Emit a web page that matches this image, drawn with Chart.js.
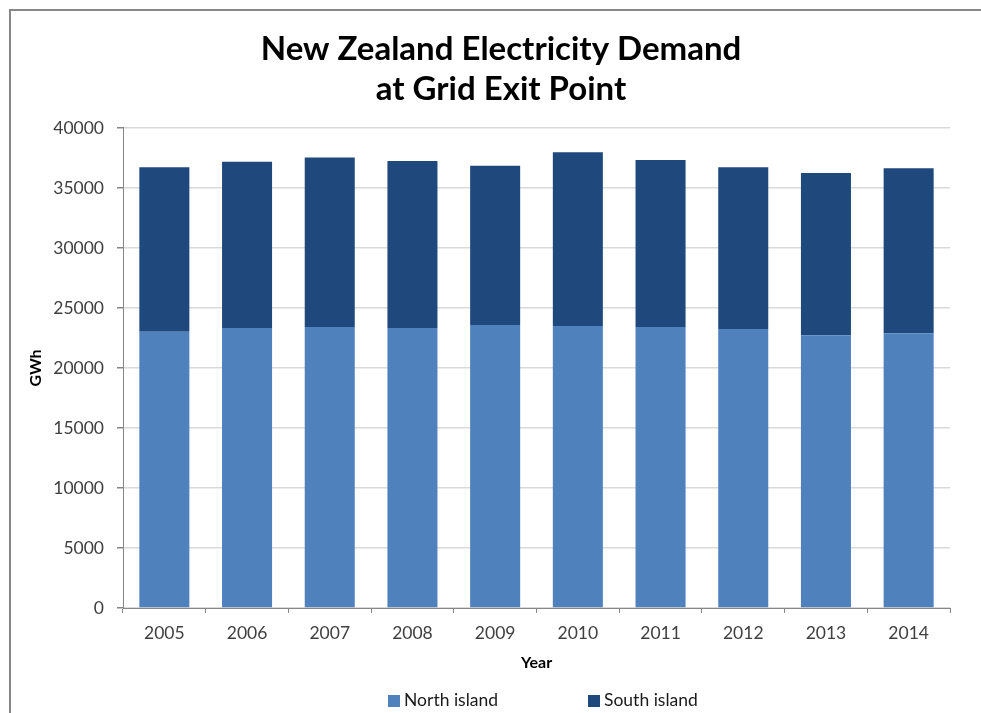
<!DOCTYPE html>
<html lang="en">
<head>
    <meta charset="UTF-8">
    <title>New Zealand Electricity Demand</title>
    <style>
        body {
            margin: 0;
            background: #fff;
            font-family: 'Lato', sans-serif;
        }
        .frame {
            position: absolute;
            left: 9px;
            top: 9px;
            width: 1200px;
            height: 1200px;
            border-left: 2px solid #868686;
            border-top: 2px solid #868686;
        }
        .wrap {
            position: absolute;
            left: 0;
            top: 0;
            width: 981px;
            height: 713px;
        }
        .legend-item {
            position: absolute;
            top: 689px;
            font-size: 17.5px;
            color: #1a1a1a;
            line-height: 22px;
            white-space: nowrap;
        }
        .legend-item span {
            display: inline-block;
            width: 12px;
            height: 12px;
            margin-right: 4px;
            vertical-align: -1px;
        }
    </style>
    <script src="https://cdn.jsdelivr.net/npm/chart.js"></script>
</head>
<body>
<div class="frame"></div>
<div class="wrap">
    <canvas id="chart" width="981" height="713"></canvas>
</div>
<div class="legend-item" style="left:388px"><span style="background:#4F81BD"></span>North island</div>
<div class="legend-item" style="left:588px"><span style="background:#1F497D"></span>South island</div>

<script>
    // values (GWh)
    const years = ['2005', '2006', '2007', '2008', '2009', '2010', '2011', '2012', '2013', '2014'];
    const northIsland = [23030, 23330, 23420, 23330, 23580, 23500, 23420, 23250, 22720, 22890];
    const southIsland = [13690, 13860, 14130, 13920, 13280, 14470, 13910, 13470, 13530, 13750];
    const titleLines = ['New Zealand Electricity Demand', 'at Grid Exit Point'];

    const axisGray = '#868686';
    const gridGray = '#D9D9D9';
    const tickText = '#404040';

    new Chart(document.getElementById('chart'), {
        type: 'bar',
        data: {
            labels: years,
            datasets: [
                {
                    label: 'North island',
                    data: northIsland,
                    backgroundColor: '#4F81BD',
                    barPercentage: 0.605,
                    categoryPercentage: 1
                },
                {
                    label: 'South island',
                    data: southIsland,
                    backgroundColor: '#1F497D',
                    barPercentage: 0.605,
                    categoryPercentage: 1
                }
            ]
        },
        options: {
            responsive: false,
            animation: false,
            layout: {
                padding: { left: 52, right: 31, top: 0, bottom: 35 }
            },
            plugins: {
                legend: { display: false },
                tooltip: { enabled: false },
                title: {
                    display: true,
                    text: titleLines,
                    color: '#000',
                    font: { family: 'Lato', size: 33, weight: 'bold', lineHeight: 1.212 },
                    padding: { top: 29, bottom: 19 }
                }
            },
            scales: {
                x: {
                    stacked: true,
                    afterFit: scale => { scale.height = 70; },
                    border: { color: axisGray, width: 1 },
                    grid: {
                        offset: true,
                        drawOnChartArea: false,
                        drawTicks: true,
                        tickLength: 5,
                        tickColor: axisGray
                    },
                    ticks: {
                        color: tickText,
                        padding: 10,
                        maxRotation: 0,
                        font: { family: 'Lato', size: 17.5 }
                    },
                    title: {
                        display: true,
                        text: 'Year',
                        color: '#000',
                        font: { family: 'Lato', size: 16, weight: 'bold' },
                        padding: { top: 0, bottom: 6 }
                    }
                },
                y: {
                    stacked: true,
                    min: 0,
                    max: 40000,
                    afterFit: scale => { scale.width = 71; },
                    border: { color: axisGray, width: 1 },
                    grid: {
                        color: gridGray,
                        lineWidth: 1.5,
                        drawTicks: true,
                        tickLength: 6,
                        tickColor: axisGray
                    },
                    ticks: {
                        stepSize: 5000,
                        color: tickText,
                        padding: 13,
                        font: { family: 'Lato', size: 17.5 },
                        callback: value => String(value)
                    },
                    title: {
                        display: true,
                        text: 'GWh',
                        color: '#000',
                        font: { family: 'Lato', size: 16, weight: 'bold' },
                        padding: { top: -25.6, bottom: 0 }
                    }
                }
            }
        }
    });
</script>
</body>
</html>
